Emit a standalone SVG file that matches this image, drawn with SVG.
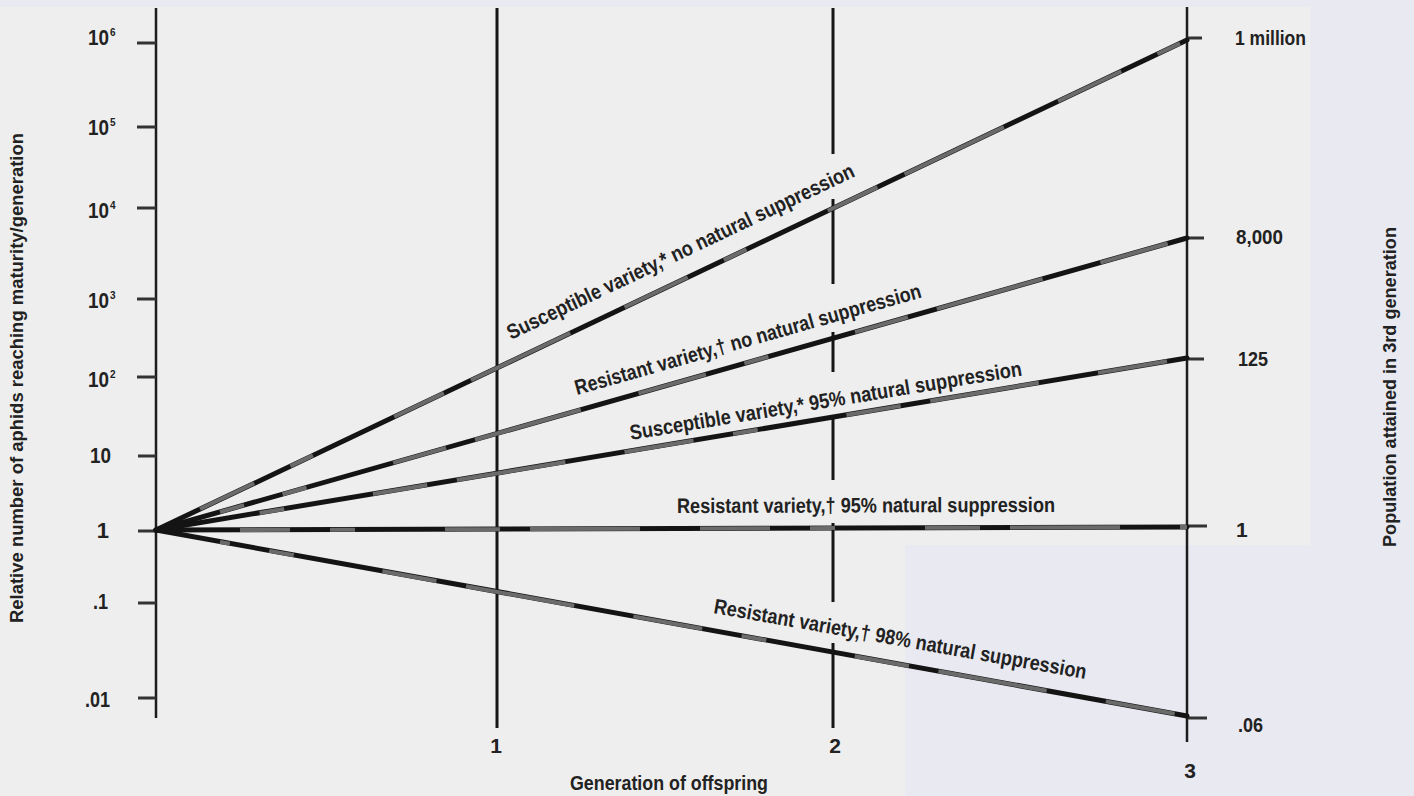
<svg xmlns="http://www.w3.org/2000/svg" width="1414" height="796" viewBox="0 0 1414 796">
  <style>
    text { font-family: "Liberation Sans", Arial, sans-serif; font-weight: bold; fill: #222; }
    .tk { font-size: 22px; }
    .sup { font-size: 10px; }
    .lbl { font-size: 21px; }
    .ttl { font-size: 19px; }
    .ax { stroke: #1c1c1c; stroke-width: 2.5; fill: none; }
    .tick { stroke: #333; stroke-width: 3; fill: none; }
    .gen { stroke: #151515; stroke-width: 3; fill: none; }
    .ser { stroke: #141414; stroke-width: 5; fill: none; stroke-linecap: round; }
    .mot { stroke: #6b6b6b; stroke-width: 4; fill: none; stroke-dasharray: 70 40 25 90 55 30 110 60; }
  </style>

  <!-- background -->
  <rect x="0" y="0" width="1414" height="796" fill="#eeeeee"/>
  <rect x="1310" y="0" width="104" height="796" fill="#e9e9f1"/>
  <rect x="905" y="545" width="509" height="251" fill="#e9e9f1"/>
  <rect x="0" y="0" width="1414" height="7" fill="#e9e9f1"/>

  <!-- left axis -->
  <g id="left-axis">
    <line class="ax" x1="156" y1="8" x2="156" y2="718"/>
    <line class="tick" x1="137" y1="43" x2="156" y2="43"/>
    <line class="tick" x1="137" y1="127" x2="156" y2="127"/>
    <line class="tick" x1="137" y1="208" x2="156" y2="208"/>
    <line class="tick" x1="137" y1="299" x2="156" y2="299"/>
    <line class="tick" x1="137" y1="377" x2="156" y2="377"/>
    <line class="tick" x1="138" y1="456" x2="156" y2="456"/>
    <line class="tick" x1="138" y1="531" x2="156" y2="531"/>
    <line class="tick" x1="138" y1="603" x2="156" y2="603"/>
    <line class="tick" x1="138" y1="698" x2="156" y2="698"/>

    <text class="tk" x="109" y="45" text-anchor="end" textLength="21" lengthAdjust="spacingAndGlyphs">10</text>
    <text class="sup" x="110" y="36">6</text>
    <text class="tk" x="109" y="135" text-anchor="end" textLength="21" lengthAdjust="spacingAndGlyphs">10</text>
    <text class="sup" x="110" y="126">5</text>
    <text class="tk" x="109" y="218" text-anchor="end" textLength="21" lengthAdjust="spacingAndGlyphs">10</text>
    <text class="sup" x="110" y="209">4</text>
    <text class="tk" x="109" y="308" text-anchor="end" textLength="21" lengthAdjust="spacingAndGlyphs">10</text>
    <text class="sup" x="110" y="299">3</text>
    <text class="tk" x="109" y="387" text-anchor="end" textLength="21" lengthAdjust="spacingAndGlyphs">10</text>
    <text class="sup" x="110" y="378">2</text>
    <text class="tk" x="111" y="463" text-anchor="end" textLength="21" lengthAdjust="spacingAndGlyphs">10</text>
    <text class="tk" x="109" y="538" text-anchor="end">1</text>
    <text class="tk" x="108" y="609" text-anchor="end" textLength="15" lengthAdjust="spacingAndGlyphs">.1</text>
    <text class="tk" x="110" y="707" text-anchor="end" textLength="25" lengthAdjust="spacingAndGlyphs">.01</text>

    <text class="ttl" transform="translate(23,378) rotate(-90)" text-anchor="middle" textLength="490" lengthAdjust="spacingAndGlyphs">Relative number of aphids reaching maturity/generation</text>
  </g>

  <!-- generation lines -->
  <g id="generation-lines">
    <line class="gen" x1="497" y1="8" x2="497" y2="728"/>
    <path class="gen" d="M833 8V154M833 199V284M833 332V372M833 417V480M833 523V602M833 643V728"/>
    <text class="lbl" x="496" y="753" text-anchor="middle">1</text>
    <text class="lbl" x="835" y="753" text-anchor="middle">2</text>
    <text class="lbl" x="669" y="790" text-anchor="middle" textLength="198" lengthAdjust="spacingAndGlyphs">Generation of offspring</text>
  </g>

  <!-- right axis -->
  <g id="right-axis">
    <line class="ax" x1="1187" y1="7" x2="1187" y2="742"/>
    <line class="tick" x1="1187" y1="38" x2="1202" y2="38"/>
    <line class="tick" x1="1187" y1="238" x2="1204" y2="238"/>
    <line class="tick" x1="1187" y1="359" x2="1204" y2="359"/>
    <line class="tick" x1="1187" y1="526" x2="1207" y2="526"/>
    <line class="tick" x1="1187" y1="718" x2="1207" y2="718"/>
    <text class="lbl" x="1235" y="45" textLength="71" lengthAdjust="spacingAndGlyphs">1 million</text>
    <text class="lbl" x="1236" y="244" textLength="47" lengthAdjust="spacingAndGlyphs">8,000</text>
    <text class="lbl" x="1238" y="366" textLength="30" lengthAdjust="spacingAndGlyphs">125</text>
    <text class="lbl" x="1236" y="537">1</text>
    <text class="lbl" x="1238" y="732" textLength="25" lengthAdjust="spacingAndGlyphs">.06</text>
    <text class="lbl" x="1190" y="778" text-anchor="middle">3</text>
    <text class="ttl" transform="translate(1396,387) rotate(-90)" text-anchor="middle" textLength="320" lengthAdjust="spacingAndGlyphs">Population attained in 3rd generation</text>
  </g>

  <!-- connectors: series lines -->
  <g id="connectors">
    <line class="ser" x1="156" y1="530" x2="1187" y2="40"/>
    <line class="ser" x1="156" y1="530" x2="1187" y2="238"/>
    <line class="ser" x1="156" y1="530" x2="1187" y2="358"/>
    <line class="ser" x1="156" y1="530" x2="1187" y2="527"/>
    <line class="ser" x1="156" y1="530" x2="1187" y2="716"/>
    <line class="mot" x1="200" y1="509" x2="1187" y2="40" stroke-dashoffset="10"/>
    <line class="mot" x1="220" y1="512" x2="1187" y2="238" stroke-dashoffset="45"/>
    <line class="mot" x1="230" y1="518" x2="1187" y2="358" stroke-dashoffset="80"/>
    <line class="mot" x1="240" y1="530" x2="1187" y2="527" stroke-dashoffset="20"/>
    <line class="mot" x1="220" y1="542" x2="1187" y2="716" stroke-dashoffset="60"/>
  </g>

  <!-- series labels -->
  <g id="s1-label">
    <text class="lbl" transform="translate(511,340) rotate(-25.42)" textLength="382" lengthAdjust="spacingAndGlyphs">Susceptible variety,* no natural suppression</text>
  </g>
  <g id="s2-label">
    <text class="lbl" transform="translate(577,395) rotate(-15.81)" textLength="359" lengthAdjust="spacingAndGlyphs">Resistant variety,† no natural suppression</text>
  </g>
  <g id="s3-label">
    <text class="lbl" transform="translate(631,440) rotate(-9.35)" textLength="397" lengthAdjust="spacingAndGlyphs">Susceptible variety,* 95% natural suppression</text>
  </g>
  <g id="s4-label">
    <text class="lbl" transform="translate(677,513) rotate(-0.17)" textLength="378" lengthAdjust="spacingAndGlyphs">Resistant variety,† 95% natural suppression</text>
  </g>
  <g id="s5-label">
    <text class="lbl" transform="translate(713,613) rotate(10.06)" textLength="378" lengthAdjust="spacingAndGlyphs">Resistant variety,† 98% natural suppression</text>
  </g>
</svg>
